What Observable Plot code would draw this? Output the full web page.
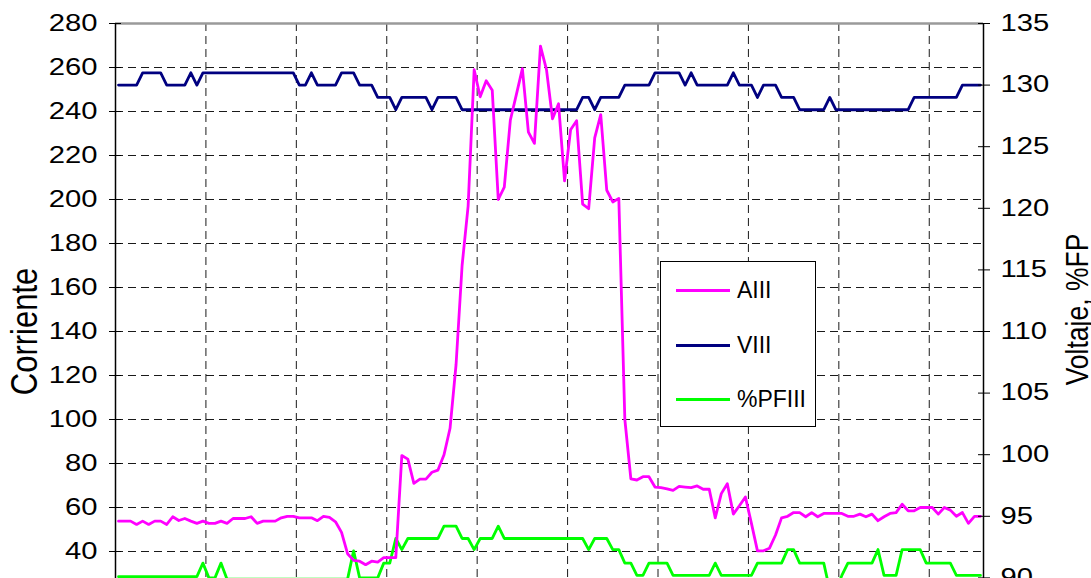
<!DOCTYPE html>
<html>
<head>
<meta charset="utf-8">
<script src="https://cdn.jsdelivr.net/npm/d3@7"></script>
<script src="https://cdn.jsdelivr.net/npm/@observablehq/plot@0.6"></script>
<style>
  html, body { margin: 0; padding: 0; background: #fff; overflow: hidden; }
  #wrap { position: relative; width: 1091px; }
  #legend { position: absolute; left: 660px; top: 261px; width: 156px; height: 166px;
            border: 1px solid #000; background: #fff; box-sizing: border-box;
            font-family: "Liberation Sans", Arial, sans-serif; font-size: 23px; color: #000; }
  .item { position: absolute; left: 15px; display: flex; align-items: center; }
  .swatch { width: 54px; height: 0; border-top: 3px solid; margin-right: 7px; }
</style>
</head>
<body>
<div id="wrap"><div id="chart"></div><div id="legend"></div></div>
<script>
// ---- data ----
const AIII = [
  53.8, 53.8, 53.8, 52.3, 53.8, 52.3, 53.8, 53.8, 52.3, 55.8,
  54.1, 55, 53.8, 52.8, 53.8, 52.8, 52.8, 53.8, 52.8, 55,
  55, 55, 55.8, 52.8, 53.8, 53.8, 53.8, 55.3, 56, 56,
  55.3, 55.3, 55.3, 54, 56, 55.5, 53.5, 48.7, 39, 36,
  35.6, 34, 35.6, 35.2, 37.2, 37.2, 37.2, 83.6, 82, 71,
  72.9, 72.9, 76, 77, 84, 96, 125, 170, 197, 259,
  246.7, 254, 249.7, 200, 205.6, 236, 247.7, 259.5, 230.6, 225.5,
  269.7, 259, 236.7, 243.5, 208.5, 231.7, 235.8, 197.9, 195.8, 228,
  238.6, 204.2, 198.9, 200.5, 100, 73, 72.5, 74, 74, 69.3,
  69, 68.5, 67.8, 69.6, 69.3, 69, 69.8, 68.3, 68.3, 55.3,
  66.3, 70.8, 57, 60.8, 64.8, 52.8, 40.3, 40.3, 41.5, 47.5,
  55.3, 56, 57.7, 57.7, 55.8, 57.7, 55.8, 57.3, 57.3, 57.3,
  57.3, 56, 56, 57, 55.8, 57, 54, 55.8, 57.3, 57.7,
  61.5, 58.5, 58.5, 60, 60, 60, 57, 60, 58.8, 56,
  57.7, 52.8, 56, 56
];
const VIII = [
  130, 130, 130, 130, 131, 131, 131, 131, 130, 130,
  130, 130, 131, 130, 131, 131, 131, 131, 131, 131,
  131, 131, 131, 131, 131, 131, 131, 131, 131, 131,
  130, 130, 131, 130, 130, 130, 130, 131, 131, 131,
  130, 130, 130, 129, 129, 129, 128, 129, 129, 129,
  129, 129, 128, 129, 129, 129, 129, 128, 128, 128,
  128, 128, 128, 128, 128, 128, 128, 128, 128, 128,
  128, 128, 128, 128, 128, 128, 128, 129, 129, 128,
  129, 129, 129, 129, 130, 130, 130, 130, 130, 131,
  131, 131, 131, 131, 130, 131, 130, 130, 130, 130,
  130, 130, 131, 130, 130, 130, 129, 130, 130, 130,
  129, 129, 129, 128, 128, 128, 128, 128, 129, 128,
  128, 128, 128, 128, 128, 128, 128, 128, 128, 128,
  128, 128, 129, 129, 129, 129, 129, 129, 129, 129,
  130, 130, 130, 130
];
const PFIII = [
  90.1, 90.1, 90.1, 90.1, 90.1, 90.1, 90.1, 90.1, 90.1, 90.1,
  90.1, 90.1, 90.1, 90.1, 91.2, 90, 90, 91.2, 89.9, 89.9,
  89.9, 89.9, 89.9, 89.9, 89.9, 89.9, 89.9, 89.9, 89.9, 89.9,
  89.9, 89.9, 89.9, 89.9, 89.9, 89.9, 89.9, 89.9, 89.9, 92.2,
  90, 90, 90, 90, 91.2, 91.2, 93.2, 92.3, 93.2, 93.2,
  93.2, 93.2, 93.2, 93.2, 94.2, 94.2, 94.2, 93.2, 93.2, 92.3,
  93.2, 93.2, 93.2, 94.2, 93.2, 93.2, 93.2, 93.2, 93.2, 93.2,
  93.2, 93.2, 93.2, 93.2, 93.2, 93.2, 93.2, 93.2, 92.3, 93.2,
  93.2, 93.2, 92.3, 92.3, 91.2, 91.2, 90.2, 90.2, 91.2, 91.2,
  91.2, 91.2, 90.2, 90.2, 90.2, 90.2, 90.2, 90.2, 90.2, 91.2,
  90.2, 90.2, 90.2, 90.2, 90.2, 90.2, 91.2, 91.2, 91.2, 91.2,
  91.2, 92.3, 92.3, 91.2, 91.2, 91.2, 91.2, 91.2, 89, 89,
  90.2, 91.2, 91.2, 91.2, 91.2, 91.2, 92.3, 90.2, 90.2, 90.2,
  92.3, 92.3, 92.3, 92.3, 91.2, 91.2, 91.2, 91.2, 91.2, 90.2,
  90.2, 90.2, 90.2, 90.2
];
const seriesNames = ["AIII", "VIII", "%PFIII"];
const seriesColors = ["#ff00ff", "#000080", "#00ff00"];
const leftTicks = [0, 20, 40, 60, 80, 100, 120, 140, 160, 180, 200, 220, 240, 260, 280];
const rightTicks = [85, 90, 95, 100, 105, 110, 115, 120, 125, 130, 135];
const xGridAt = [15, 30, 45, 60, 75, 90, 105, 120, 135];
const leftTitle = "Corriente";
const rightTitle = "Voltaje, %FP";

// ---- scales ----
const nCat = AIII.length;
const L0 = leftTicks[0], L1 = leftTicks[leftTicks.length - 1];
const R0 = rightTicks[0], R1 = rightTicks[rightTicks.length - 1];
const toLeft = v => L0 + (v - R0) * (L1 - L0) / (R1 - R0);
const fromLeft = v => R0 + (v - L0) * (R1 - R0) / (L1 - L0);
const idx = d3.range(nCat);
const font = "'Liberation Sans', Arial, sans-serif";

const chart = Plot.plot({
  width: 1091,
  height: 680,
  marginLeft: 115,
  marginRight: 108,
  marginTop: 23,
  marginBottom: 41,
  x: {domain: [0, nCat], axis: null},
  y: {domain: [L0, L1], axis: null},
  style: {fontFamily: font, background: "#fff", color: "#000"},
  marks: [
    Plot.ruleY(leftTicks.slice(1, -1), {stroke: "#1a1a1a", strokeDasharray: "8,5", strokeWidth: 1}),
    Plot.ruleX(xGridAt, {stroke: "#1a1a1a", strokeDasharray: "8,5", strokeWidth: 1}),
    Plot.line(idx, {x: i => i + 0.5, y: i => toLeft(PFIII[i]), stroke: seriesColors[2], strokeWidth: 2.8}),
    Plot.line(idx, {x: i => i + 0.5, y: i => toLeft(VIII[i]), stroke: seriesColors[1], strokeWidth: 2.8}),
    Plot.line(idx, {x: i => i + 0.5, y: i => AIII[i], stroke: seriesColors[0], strokeWidth: 2.8}),
    Plot.ruleY([L1], {stroke: "#9a9a9a", strokeWidth: 2.5}),
    Plot.ruleY([L0], {stroke: "#000", strokeWidth: 1.5}),
    Plot.ruleX([0], {stroke: "#000", strokeWidth: 1.5}),
    Plot.ruleX([nCat], {stroke: "#000", strokeWidth: 1.5}),
    // left axis: crossing ticks + labels
    Plot.axisY(leftTicks, {anchor: "left", tickSize: 12, dx: 6, fill: "none", stroke: "#000"}),
    Plot.axisY(leftTicks, {anchor: "left", tickSize: 0, tickPadding: 18, fontSize: 23, fill: "#000"}),
    // right axis
    Plot.axisY(rightTicks.map(toLeft), {anchor: "right", tickSize: 12, dx: -6, fill: "none", stroke: "#000"}),
    Plot.axisY(rightTicks.map(toLeft), {anchor: "right", tickSize: 0, tickPadding: 17, fontSize: 23, fill: "#000",
      tickFormat: d => String(Math.round(fromLeft(d)))}),
    Plot.text([leftTitle], {frameAnchor: "left", textAnchor: "middle", dx: -90, rotate: -90, fontSize: 31, fill: "#000"}),
    Plot.text([rightTitle], {frameAnchor: "right", textAnchor: "middle", dx: 94, dy: -22, rotate: -90, fontSize: 26.5, fill: "#000"})
  ]
});
document.getElementById("chart").appendChild(chart);

// the reference's axis typography is drawn slightly wider than the font's natural width
d3.select(chart).selectAll('g[aria-label="y-axis tick label"] text').each(function() {
  const w = this.getComputedTextLength();
  this.setAttribute("textLength", (w * 1.27).toFixed(1));
  this.setAttribute("lengthAdjust", "spacingAndGlyphs");
});
d3.select(chart).selectAll('g[aria-label="text"] text').each(function() {
  const t = this.getAttribute("transform") || "";
  this.setAttribute("transform", t + " scale(1,1.2)");
});

// legend
const legend = document.getElementById("legend");
seriesNames.forEach((name, k) => {
  const row = document.createElement("div");
  row.className = "item";
  row.style.top = (15 + k * 54.5) + "px";
  const sw = document.createElement("span");
  sw.className = "swatch";
  sw.style.borderTopColor = seriesColors[k];
  const label = document.createElement("span");
  label.textContent = name;
  row.appendChild(sw);
  row.appendChild(label);
  legend.appendChild(row);
});
</script>
</body>
</html>
